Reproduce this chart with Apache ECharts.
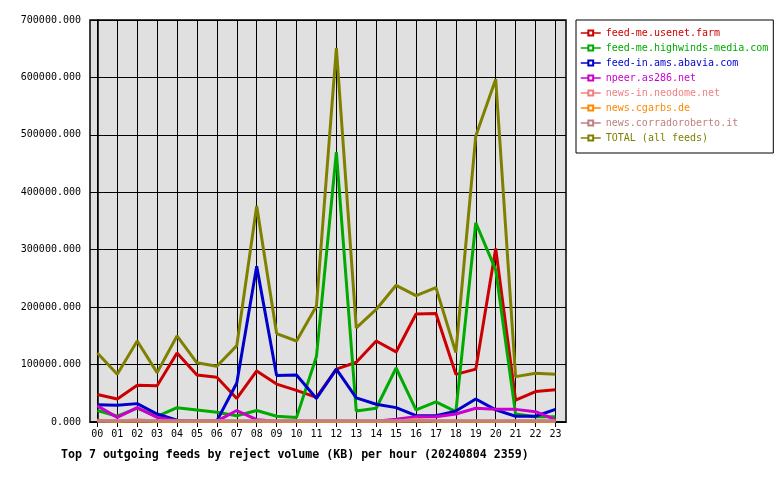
<!DOCTYPE html>
<html>
<head>
<meta charset="utf-8">
<script src="https://cdn.jsdelivr.net/npm/echarts@6/dist/echarts.min.js"></script>
<style>
html,body{margin:0;padding:0;background:#fff;}
#chart{width:780px;height:480px;}
</style>
</head>
<body>
<div id="chart"></div>
<script>
const hours = ['00','01','02','03','04','05','06','07','08','09','10','11','12','13','14','15','16','17','18','19','20','21','22','23'];
const seriesNames = ['feed-me.usenet.farm','feed-me.highwinds-media.com','feed-in.ams.abavia.com','npeer.as286.net','news-in.neodome.net','news.cgarbs.de','news.corradoroberto.it','TOTAL (all feeds)'];
const seriesColors = ['#cc0000','#00aa00','#0000cc','#cc00cc','#f08080','#ff8800','#c08080','#808000'];

const usenetFarm = [48000, 40000, 64000, 63000, 120000, 82000, 78000, 41000, 89000, 66000, 55000, 43000, 92000, 104000, 141000, 122000, 188000, 189000, 83000, 92000, 302000, 38000, 53000, 56000];
const highwinds  = [20000, 10000, 24000, 10000, 25000, 21000, 17000, 11000, 20000, 10000, 8000, 114000, 470000, 19000, 24000, 94000, 21000, 35000, 18000, 347000, 265000, 14000, 9000, 9000];
const abavia     = [30000, 29000, 32000, 14000, 3000, 1500, 2000, 68000, 271000, 81000, 82000, 41000, 92000, 42000, 31000, 25000, 11000, 11000, 19000, 40000, 21000, 10000, 10000, 22000];
const npeer      = [28000, 8000, 25000, 8000, 2000, 1500, 1500, 20000, 4000, 1500, 1500, 1500, 1500, 1500, 1500, 5000, 9000, 9000, 14000, 24000, 22000, 22000, 18000, 4000];
const neodome    = [1500, 1500, 4000, 1500, 1500, 1500, 1500, 1500, 1500, 1500, 1500, 1500, 1500, 1500, 1500, 1500, 5000, 1500, 1500, 1500, 1500, 1500, 1500, 1500];
const cgarbs     = [3000, 1500, 1500, 1500, 1500, 1500, 1500, 1500, 1500, 1500, 1500, 1500, 1500, 1500, 1500, 1500, 1500, 1500, 1500, 1500, 1500, 1500, 1500, 1500];
const corrado    = [2000, 2000, 2000, 2000, 2000, 2000, 2000, 2000, 2000, 2000, 2000, 2000, 2000, 2000, 2000, 2000, 2000, 2000, 2000, 2000, 2000, 2000, 2000, 2000];
const total      = [120000, 83000, 141000, 86000, 150000, 103000, 97000, 133000, 376000, 154000, 141000, 202000, 651000, 164000, 196000, 238000, 220000, 234000, 121000, 498000, 597000, 79000, 85000, 83000];

const titleText = 'Top 7 outgoing feeds by reject volume (KB) per hour (20240804 2359)';

const allData = [usenetFarm, highwinds, abavia, npeer, neodome, cgarbs, corrado, total];
const hourIdx = hours.map((h, i) => i);
const FONT = '"DejaVu Sans Mono", "Liberation Mono", monospace';

const chart = echarts.init(document.getElementById('chart'), null, {renderer: 'canvas'});
const option = {
  animation: false,
  backgroundColor: '#ffffff',
  title: {
    text: titleText,
    left: 56,
    top: 444,
    textStyle: {fontFamily: FONT, fontSize: 11.6, fontWeight: 'bold', color: '#000'}
  },
  legend: {
    orient: 'vertical',
    left: 576,
    top: 20,
    padding: [8, 5, 10, 4],
    itemWidth: 20,
    itemHeight: 6,
    itemGap: 5,
    backgroundColor: '#fff',
    borderColor: '#000',
    borderWidth: 1,
    lineStyle: {width: 1.5},
    textStyle: {fontFamily: FONT, fontSize: 10, lineHeight: 10},
    data: seriesNames.map((n, i) => ({name: n, textStyle: {color: seriesColors[i]}}))
  },
  grid: {
    left: 90, top: 20, width: 476, height: 402,
    show: true, backgroundColor: '#e0e0e0', borderColor: '#000', borderWidth: 1.5,
    containLabel: false
  },
  xAxis: {
    type: 'value',
    min: -0.37,
    max: 23.53,
    axisLine: {show: true, lineStyle: {color: '#000', width: 1.5}},
    axisTick: {show: true, length: 5, inside: false, customValues: hourIdx, lineStyle: {color: '#000', width: 1}},
    axisLabel: {customValues: hourIdx, formatter: v => hours[Math.round(v)], fontFamily: FONT, fontSize: 10, color: '#000', margin: 7},
    splitLine: {show: true, lineStyle: {color: '#000', width: 1}}
  },
  yAxis: {
    type: 'value',
    min: 0,
    max: 700000,
    interval: 100000,
    axisLine: {show: true, lineStyle: {color: '#000', width: 1.5}},
    axisTick: {show: true, length: 4, lineStyle: {color: '#000'}},
    axisLabel: {formatter: v => v.toFixed(3), fontFamily: FONT, fontSize: 10, color: '#000', margin: 9},
    splitLine: {show: true, lineStyle: {color: '#000', width: 1}}
  },
  series: seriesNames.map((n, i) => ({
    name: n,
    type: 'line',
    data: allData[i].map((v, j) => [hourIdx[j], v]),
    color: seriesColors[i],
    symbol: 'emptyRect',
    symbolSize: 5,
    showSymbol: false,
    lineStyle: {width: 3, color: seriesColors[i]},
    itemStyle: {color: seriesColors[i]},
    emphasis: {disabled: true},
    silent: true
  }))
};
chart.setOption(option);
</script>
</body>
</html>
